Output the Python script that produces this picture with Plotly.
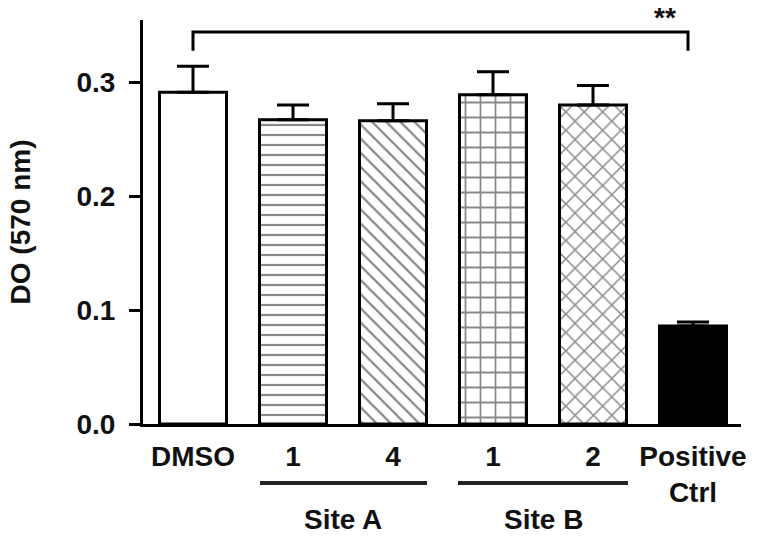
import plotly.graph_objects as go

# ---- data ----
groups = ["DMSO", "1", "4", "1", "2", "Positive<br>Ctrl"]
means = [0.291, 0.267, 0.266, 0.289, 0.280, 0.086]
errors = [0.023, 0.013, 0.015, 0.020, 0.017, 0.0035]
patterns = ["", "-", "\\", "+", "x", ""]
fills = ["white", "white", "white", "white", "white", "black"]
pattern_sizes = [10, 10, 10, 15, 13, 10]
y_ticks = [0.0, 0.1, 0.2, 0.3]
site_labels = ["Site A", "Site B"]
site_centers = [1.5, 3.5]
site_spans = [(0.67, 2.34), (2.65, 4.35)]
sig_label = "**"
sig_pair = (0, 4.95)

xpos = list(range(len(groups)))
FONT = "Liberation Sans, Arial, sans-serif"
TXT = "#111111"
FS = 28

fig = go.Figure()
for i in xpos:
    marker = dict(color=fills[i], line=dict(color="black", width=3))
    if patterns[i]:
        marker["pattern"] = dict(shape=patterns[i], size=pattern_sizes[i],
                                 solidity=0.22, fgcolor="#111111",
                                 bgcolor="white")
    fig.add_trace(go.Bar(
        x=[xpos[i]], y=[means[i]], width=0.67,
        marker=marker,
        error_y=dict(type="data", array=[errors[i]], arrayminus=[0],
                     symmetric=False, thickness=3, width=16, color="black"),
        showlegend=False,
    ))

# significance bracket
fig.add_trace(go.Scatter(
    x=[sig_pair[0], sig_pair[0], sig_pair[1], sig_pair[1]],
    y=[0.3276, 0.344, 0.344, 0.3276],
    mode="lines", line=dict(color="black", width=3),
    showlegend=False, hoverinfo="skip",
))

fig.add_annotation(x=4.72, y=0.341, xref="x", yref="y", text=sig_label,
                   showarrow=False, yanchor="bottom",
                   font=dict(family=FONT, size=FS, color=TXT, weight="bold"))

shapes = []
for (x0, x1) in site_spans:
    shapes.append(dict(type="line", xref="x", yref="paper", x0=x0, x1=x1,
                       y0=-0.146, y1=-0.146,
                       line=dict(color="#222222", width=4)))
for lbl, cx in zip(site_labels, site_centers):
    fig.add_annotation(x=cx, y=-0.237, xref="x", yref="paper", text=lbl,
                       showarrow=False, yanchor="middle",
                       font=dict(family=FONT, size=FS, color=TXT, weight="bold"))

fig.update_layout(
    width=757, height=540,
    margin=dict(l=143, r=16, t=20, b=116),
    paper_bgcolor="white", plot_bgcolor="white",
    font=dict(family=FONT, size=FS, color=TXT),
    shapes=shapes,
    barmode="overlay",
)
fig.update_xaxes(
    range=[-0.5, 5.48], tickvals=xpos, ticktext=groups,
    showline=True, linecolor="black", linewidth=3,
    ticks="", showgrid=False, zeroline=False, automargin=False,
    ticklabelstandoff=5,
    tickfont=dict(family=FONT, size=FS, color=TXT, weight="bold"),
)
fig.update_yaxes(
    range=[0, 0.3545], tickvals=y_ticks, tickformat=".1f",
    showline=True, linecolor="black", linewidth=3,
    ticks="outside", ticklen=11, tickwidth=3, tickcolor="black",
    showgrid=False, zeroline=False, automargin=False,
    ticklabelstandoff=8,
    tickfont=dict(family=FONT, size=FS, color=TXT, weight="bold"),
    title=dict(text="DO (570 nm)", standoff=38,
               font=dict(family=FONT, size=FS, color=TXT, weight="bold")),
)

fig.write_html("out.html", config={"displayModeBar": False},
               post_script="document.body.style.margin='0';")
